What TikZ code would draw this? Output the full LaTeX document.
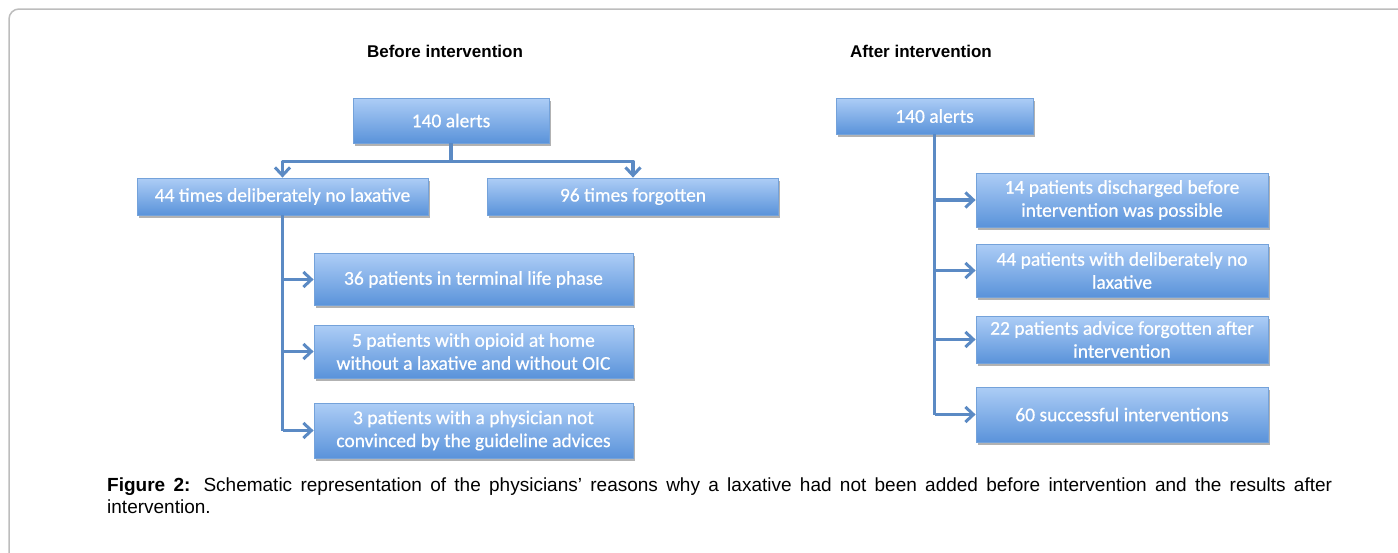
\documentclass[tikz,border=0pt]{standalone}
\usepackage{fontspec}
\setmainfont{Liberation Sans}
\newfontfamily\boxfont[FakeBold=0.6]{Carlito}
\usetikzlibrary{arrows.meta,shadows,calc}
\definecolor{boxtop}{HTML}{ADCDF6}
\definecolor{boxbot}{HTML}{5A93DA}
\definecolor{boxline}{HTML}{74A2DA}
\definecolor{connc}{HTML}{5B8AC4}
\definecolor{framec}{HTML}{BDBDBD}
\begin{document}
\begin{tikzpicture}[x=1pt,y=-1pt,
  bluebox/.style={draw=boxline, line width=0.8pt, top color=boxtop, bottom color=boxbot,
    text=white, font=\boxfont\fontsize{19.5}{23}\selectfont, align=center, inner sep=2pt,
    drop shadow={shadow xshift=1.5pt, shadow yshift=-2.5pt, opacity=0.3, fill=black}},
  conn/.style={draw=connc, line width=3.5pt, line join=round},
  arr/.style={conn, -{Straight Barb[length=8pt,width=15pt,line width=3pt]}},
  heading/.style={font=\bfseries\fontsize{17}{20}\selectfont, text=black},
]
\useasboundingbox (0,0) rectangle (1398,552);
% outer frame
\draw[framec, line width=1.5pt, rounded corners=10pt] (9,560) -- (9,9) -- (1410,9);

% headings
\node[heading] (h1) at (445,51) {Before intervention};
\node[heading] (h2) at (921,51) {After intervention};

% left tree
\node[bluebox, minimum width=196pt, minimum height=45pt] (A) at (451,120.5) {140 alerts};
\node[bluebox, minimum width=291pt, minimum height=37pt] (B) at (282.5,196.5) {44 times deliberately no laxative};
\node[bluebox, minimum width=291pt, minimum height=37pt] (C) at (633,196.5) {96 times forgotten};
\node[bluebox, minimum width=319pt, minimum height=52pt] (D1) at (473.5,279.5) {36 patients in terminal life phase};
\node[bluebox, minimum width=319pt, minimum height=53pt] (D2) at (473.5,351.5) {5 patients with opioid at home\\without a laxative and without OIC};
\node[bluebox, minimum width=319pt, minimum height=55pt] (D3) at (473.5,430.5) {3 patients with a physician not\\convinced by the guideline advices};

\coordinate (j) at ($(A.south)+(0,18)$);
\draw[conn] (A.south) -- (j);
\draw[arr] (j) -| (B.north);
\draw[arr] (j) -| (C.north);
\draw[conn] (B.south) -- (B.south |- D3.west);
\draw[arr] (B.south |- D1.west) -- (D1.west);
\draw[arr] (B.south |- D2.west) -- (D2.west);
\draw[arr] (B.south |- D3.west) -- (D3.west);

% right tree
\node[bluebox, minimum width=197pt, minimum height=36pt] (E) at (934.5,116) {140 alerts};
\node[bluebox, minimum width=292pt, minimum height=54pt] (F1) at (1122,200) {14 patients discharged before\\intervention was possible};
\node[bluebox, minimum width=292pt, minimum height=53pt] (F2) at (1122,270.5) {44 patients with deliberately no\\laxative};
\node[bluebox, minimum width=292pt, minimum height=47pt] (F3) at (1122,339.5) {22 patients advice forgotten after\\intervention};
\node[bluebox, minimum width=292pt, minimum height=55pt] (F4) at (1122,414.5) {60 successful interventions};

\draw[conn] (E.south) -- (E.south |- F4.west);
\draw[arr] (E.south |- F1.west) -- (F1.west);
\draw[arr] (E.south |- F2.west) -- (F2.west);
\draw[arr] (E.south |- F3.west) -- (F3.west);
\draw[arr] (E.south |- F4.west) -- (F4.west);

% caption
\node[anchor=base west, text width=1225pt, align=justify, inner sep=0pt,
  font=\fontsize{19}{22}\selectfont] (cap) at (107,491)
  {\textbf{Figure 2:} Schematic representation of the physicians’ reasons why a laxative had not been added before intervention and the results after \mbox{intervention.}};
\end{tikzpicture}
\end{document}
